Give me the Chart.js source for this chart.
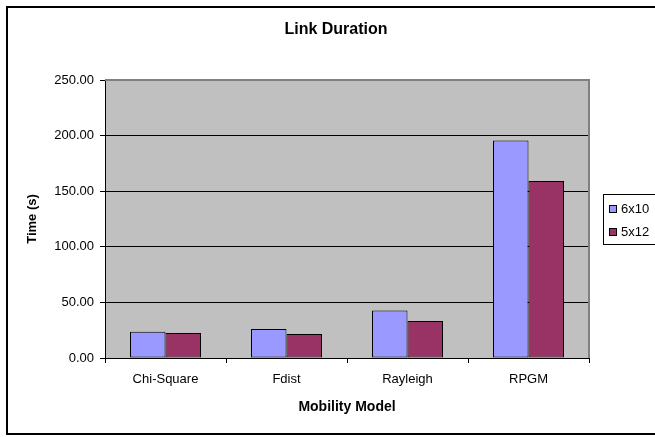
<!DOCTYPE html>
<html>
<head>
<meta charset="utf-8">
<script src="https://cdn.jsdelivr.net/npm/chart.js@4"></script>
<style>
  html, body { margin: 0; padding: 0; background: #fff; }
  #wrap { width: 655px; height: 437px; }
</style>
</head>
<body>
<div id="wrap"><canvas id="c" width="655" height="437"></canvas></div>
<script>
// Link duration per mobility model, two grid sizes
const categories = ['Chi-Square', 'Fdist', 'Rayleigh', 'RPGM'];
const series6x10 = [23.7, 26.1, 42.8, 195.7];
const series5x12 = [22.5, 21.6, 33.3, 159.2];
const seriesNames = ['6x10', '5x12'];
const seriesColors = ['#9999FF', '#993366'];
const yTicks = [0, 50, 100, 150, 200, 250];

const FONT = '"Liberation Sans", Arial, sans-serif';

// Gray plot area, its gray top/right edge, the outer frame, title and the boxed legend
const decor = {
  id: 'decor',
  beforeDraw(chart) {
    const { ctx, chartArea: a } = chart;
    ctx.save();
    ctx.fillStyle = '#fff';
    ctx.fillRect(0, 0, chart.width, chart.height);
    ctx.fillStyle = '#C0C0C0';
    ctx.fillRect(a.left, a.top, a.right - a.left, a.bottom - a.top);
    ctx.restore();
  },
  beforeDatasetsDraw(chart) {
    const { ctx, chartArea: a } = chart;
    ctx.save();
    ctx.strokeStyle = '#808080';
    ctx.lineWidth = 2;
    ctx.beginPath();
    ctx.moveTo(a.left, a.top);
    ctx.lineTo(a.right, a.top);
    ctx.lineTo(a.right, a.bottom);
    ctx.stroke();
    ctx.restore();
  },
  afterDraw(chart) {
    const { ctx } = chart;
    ctx.save();
    // outer frame (right side runs off the canvas)
    ctx.strokeStyle = '#000';
    ctx.lineWidth = 2;
    ctx.beginPath();
    ctx.moveTo(chart.width + 5, 7);
    ctx.lineTo(7, 7);
    ctx.lineTo(7, 434);
    ctx.lineTo(chart.width + 5, 434);
    ctx.stroke();

    // title
    ctx.fillStyle = '#000';
    ctx.font = 'bold 16px ' + FONT;
    ctx.textAlign = 'center';
    ctx.textBaseline = 'middle';
    ctx.fillText('Link Duration', 336, 30);

    // legend box
    ctx.lineWidth = 1;
    ctx.fillStyle = '#fff';
    ctx.fillRect(603.5, 194.5, 60, 50);
    ctx.strokeStyle = '#000';
    ctx.strokeRect(603.5, 194.5, 60, 50);
    ctx.font = '13px ' + FONT;
    ctx.textAlign = 'left';
    seriesNames.forEach((name, i) => {
      const cy = 209 + i * 23;
      ctx.fillStyle = seriesColors[i];
      ctx.fillRect(609.5, cy - 3.5, 7, 7);
      ctx.strokeRect(609.5, cy - 3.5, 7, 7);
      ctx.fillStyle = '#000';
      ctx.fillText(name, 621, cy + 0.5);
    });
    ctx.restore();
  }
};

new Chart(document.getElementById('c'), {
  type: 'bar',
  data: {
    labels: categories,
    datasets: [
      { label: seriesNames[0], data: series6x10, backgroundColor: seriesColors[0],
        borderColor: '#000', borderWidth: 1, borderSkipped: false },
      { label: seriesNames[1], data: series5x12, backgroundColor: seriesColors[1],
        borderColor: '#000', borderWidth: 1, borderSkipped: false }
    ]
  },
  options: {
    responsive: false,
    animation: false,
    devicePixelRatio: 1,
    layout: { padding: { left: 6, right: 66, top: 80, bottom: 0 } },
    datasets: { bar: { categoryPercentage: 71 / 121, barPercentage: 1.0 } },
    plugins: {
      legend: { display: false },
      title: { display: false },
      tooltip: { enabled: false }
    },
    scales: {
      x: {
        afterFit(scale) { scale.height = 79; },
        grid: { offset: true, drawOnChartArea: false, drawTicks: true, tickLength: 5, color: '#000' },
        border: { color: '#000', width: 1 },
        ticks: { color: '#000', padding: 9, font: { family: FONT, size: 13 } },
        title: {
          display: true, text: 'Mobility Model', color: '#000',
          font: { family: FONT, size: 14, weight: 'bold' },
          padding: { top: 0, bottom: 21 }
        }
      },
      y: {
        min: yTicks[0],
        max: yTicks[yTicks.length - 1],
        afterFit(scale) { scale.width = 99; },
        afterBuildTicks(scale) { scale.ticks = yTicks.map(v => ({ value: v })); },
        grid: {
          color: (c) => (c.tick && c.tick.value === 250 ? '#808080' : '#000'),
          tickColor: '#000',
          tickLength: 5,
          drawTicks: true
        },
        border: { color: '#000', width: 1 },
        ticks: {
          color: '#000', padding: 6,
          font: { family: FONT, size: 13 },
          callback: (v) => Number(v).toFixed(2)
        },
        title: {
          display: true, text: 'Time (s)', color: '#000',
          font: { family: FONT, size: 13, weight: 'bold' },
          padding: { top: 19, bottom: 0 }
        }
      }
    }
  },
  plugins: [decor]
});
</script>
</body>
</html>
